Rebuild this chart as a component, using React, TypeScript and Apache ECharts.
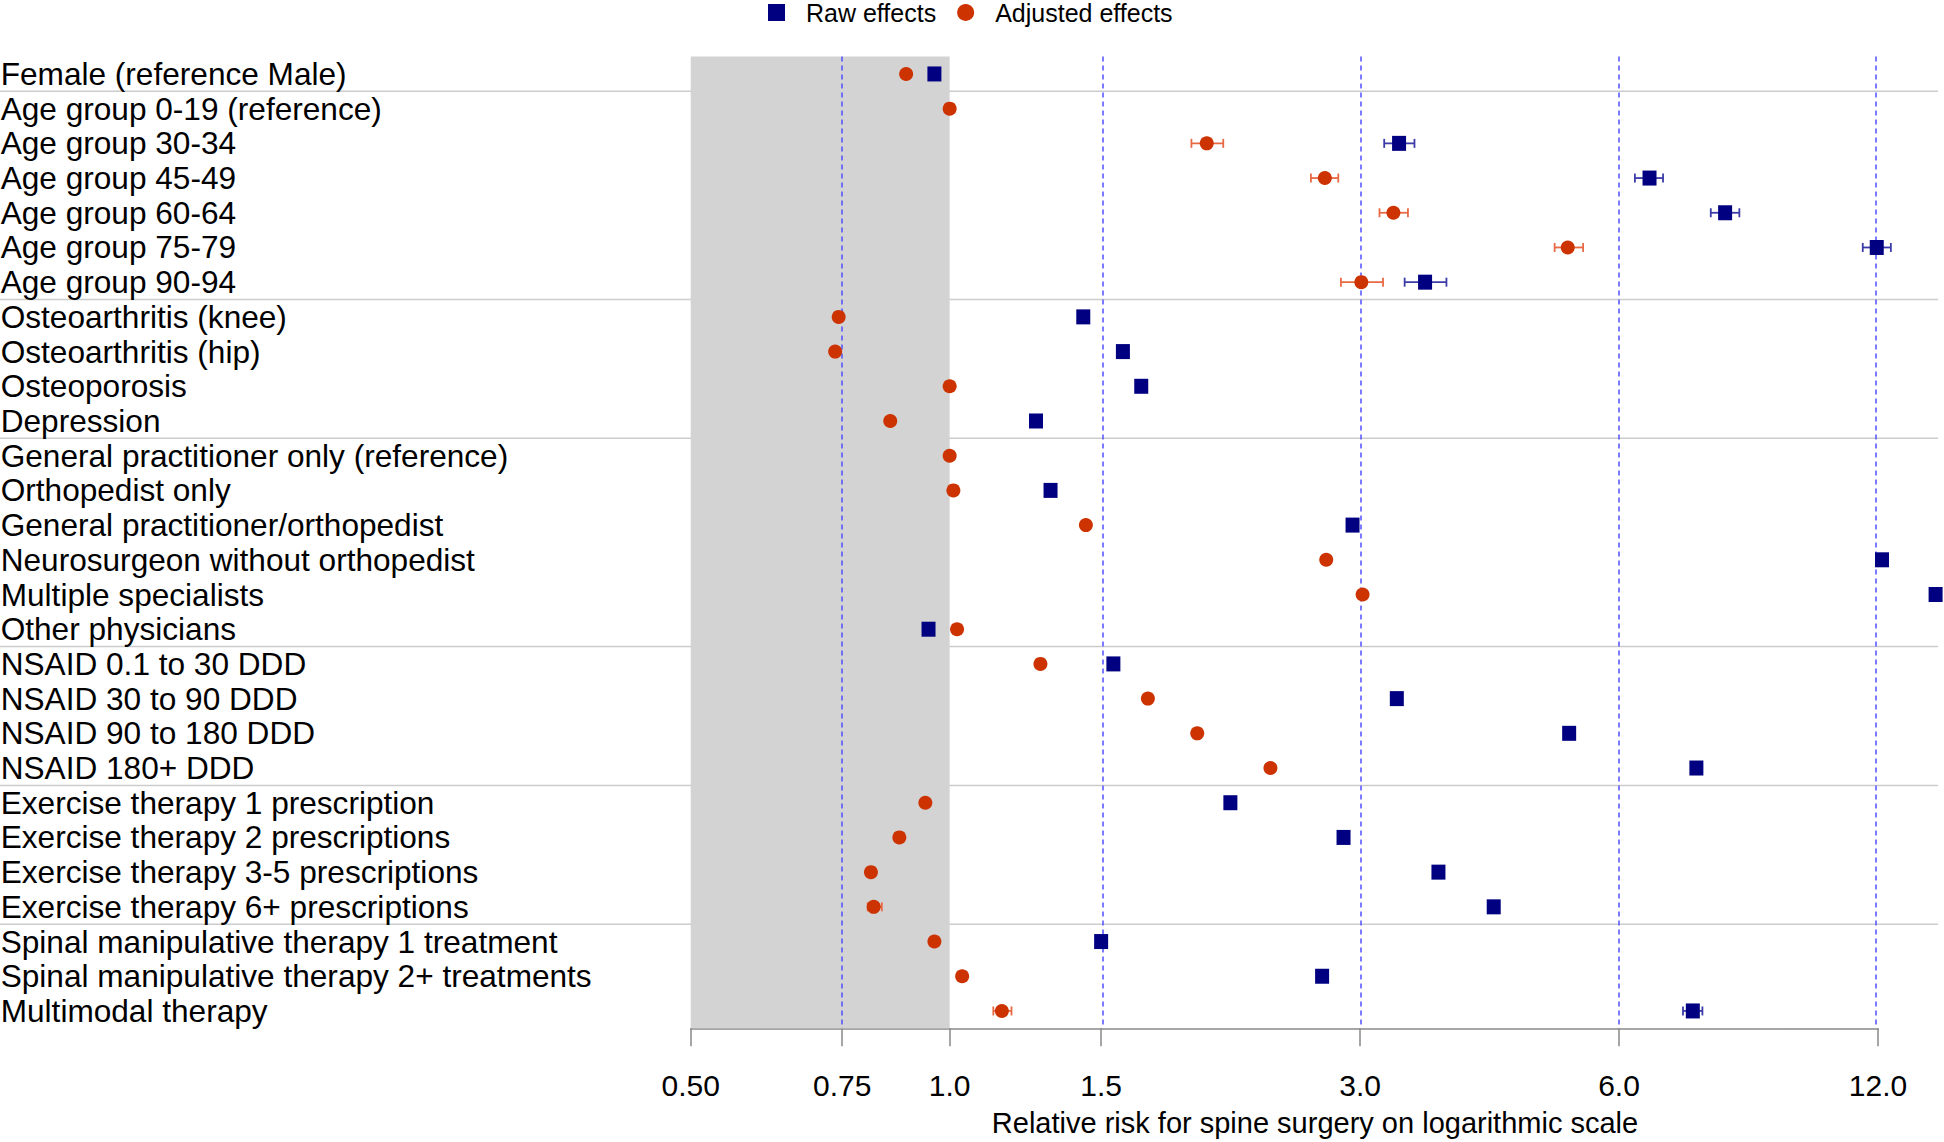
import React, { useEffect, useRef } from "react";
import * as echarts from "echarts";

const categories = [
  "Female (reference Male)",
  "Age group 0-19 (reference)",
  "Age group 30-34",
  "Age group 45-49",
  "Age group 60-64",
  "Age group 75-79",
  "Age group 90-94",
  "Osteoarthritis (knee)",
  "Osteoarthritis (hip)",
  "Osteoporosis",
  "Depression",
  "General practitioner only (reference)",
  "Orthopedist only",
  "General practitioner/orthopedist",
  "Neurosurgeon without orthopedist",
  "Multiple specialists",
  "Other physicians",
  "NSAID 0.1 to 30 DDD",
  "NSAID 30 to 90 DDD",
  "NSAID 90 to 180 DDD",
  "NSAID 180+ DDD",
  "Exercise therapy 1 prescription",
  "Exercise therapy 2 prescriptions",
  "Exercise therapy 3-5 prescriptions",
  "Exercise therapy 6+ prescriptions",
  "Spinal manipulative therapy 1 treatment",
  "Spinal manipulative therapy 2+ treatments",
  "Multimodal therapy",
];

const rawEffects = [
  0.96, null, 3.33, 6.51, 7.97, 11.96, 3.57, 1.43, 1.59, 1.67, 1.26, null, 1.31, 2.94,
  12.13, 14.0, 0.945, 1.55, 3.31, 5.25, 7.38, 2.12, 2.87, 3.7, 4.29, 1.5, 2.71, 7.31,
];
const rawLow = [
  null, null, 3.2, 6.26, 7.67, 11.52, 3.38, null, null, null, null, null, null, null,
  null, null, null, null, null, null, null, null, null, null, null, null, null, 7.12,
];
const rawHigh = [
  null, null, 3.47, 6.75, 8.28, 12.42, 3.78, null, null, null, null, null, null, null,
  null, null, null, null, null, null, null, null, null, null, null, null, null, 7.5,
];

const adjustedEffects = [
  0.89, 1.0, 1.99, 2.73, 3.28, 5.23, 3.01, 0.743, 0.736, 1.0, 0.853, 1.0, 1.01, 1.44,
  2.74, 3.02, 1.02, 1.275, 1.7, 1.94, 2.36, 0.937, 0.874, 0.81, 0.816, 0.96, 1.034, 1.15,
];
const adjLow = [
  null, null, 1.91, 2.63, 3.16, 5.05, 2.85, null, null, null, null, null, null, null,
  null, null, null, null, null, null, null, null, null, null, 0.803, null, null, 1.124,
];
const adjHigh = [
  null, null, 2.08, 2.83, 3.41, 5.45, 3.19, null, null, null, null, null, null, null,
  null, null, null, null, null, null, null, null, null, null, 0.834, null, null, 1.18,
];

const tickValues = [0.5, 0.75, 1.0, 1.5, 3.0, 6.0, 12.0];
const tickLabels = ["0.50", "0.75", "1.0", "1.5", "3.0", "6.0", "12.0"];
const referenceLines = [0.75, 1.5, 3.0, 6.0, 12.0];
const shadedRange = [0.5, 1.0];
const axisRange = [0.5, 12.0];
const separatorsAfter = [0, 6, 10, 16, 20, 24];

const xTitle = "Relative risk for spine surgery on logarithmic scale";
const rawName = "Raw effects";
const adjName = "Adjusted effects";

const FONT = "'Liberation Sans', Arial, Helvetica, sans-serif";
const RAW_COLOR = "#000080";
const ADJ_COLOR = "#cc3300";
const RAW_BAR = "#3c3ca8";
const ADJ_BAR = "#e86a45";

const ln = (v: number) => Math.log(v);

function errorBarRenderer(color: string) {
  return (params: any, api: any) => {
    const y = api.value(2);
    const p1 = api.coord([api.value(0), y]);
    const p2 = api.coord([api.value(1), y]);
    const h = 4.5;
    const style = { stroke: color, lineWidth: 1.8 };
    return {
      type: "group",
      children: [
        { type: "line", shape: { x1: p1[0], y1: p1[1], x2: p2[0], y2: p2[1] }, style },
        { type: "line", shape: { x1: p1[0], y1: p1[1] - h, x2: p1[0], y2: p1[1] + h }, style },
        { type: "line", shape: { x1: p2[0], y1: p2[1] - h, x2: p2[0], y2: p2[1] + h }, style },
      ],
    };
  };
}

export default function App() {
  const ref = useRef<HTMLDivElement>(null);

  useEffect(() => {
    document.body.style.margin = "0";
    if (!ref.current) return;
    const chart = echarts.init(ref.current, null, { renderer: "svg" });

    const rawPoints = rawEffects
      .map((v, i) => (v == null ? null : [ln(v), i]))
      .filter((d) => d) as number[][];
    const adjPoints = adjustedEffects
      .map((v, i) => (v == null ? null : [ln(v), i]))
      .filter((d) => d) as number[][];
    const rawBars = rawLow
      .map((lo, i) => (lo == null || rawHigh[i] == null ? null : [ln(lo), ln(rawHigh[i] as number), i]))
      .filter((d) => d) as number[][];
    const adjBars = adjLow
      .map((lo, i) => (lo == null || adjHigh[i] == null ? null : [ln(lo), ln(adjHigh[i] as number), i]))
      .filter((d) => d) as number[][];

    const tickLn = tickValues.map(ln);
    const fmt = (val: number) => {
      for (let i = 0; i < tickLn.length; i++) {
        if (Math.abs(tickLn[i] - val) < 1e-6) return tickLabels[i];
      }
      return "";
    };

    const option: any = {
      animation: false,
      textStyle: { fontFamily: FONT },
      legend: {
        left: 768,
        top: 0,
        padding: 0,
        itemWidth: 17,
        itemHeight: 17,
        itemGap: 21,
        textStyle: { fontSize: 25, color: "#000", fontFamily: FONT, padding: [0, 0, 0, 16] },
        data: [
          { name: rawName, icon: "rect" },
          { name: adjName, icon: "circle" },
        ],
      },
      grid: {
        left: 690.7,
        top: 56.6,
        width: 1187.3,
        height: 971.7,
        outerBoundsMode: "none",
        containLabel: false,
      },
      xAxis: {
        type: "value",
        min: ln(axisRange[0]),
        max: ln(axisRange[1]),
        axisLine: { show: true, lineStyle: { color: "#888", width: 1.5 } },
        axisTick: { show: true, length: 18, lineStyle: { color: "#888", width: 1.5 }, customValues: tickLn },
        axisLabel: { customValues: tickLn, formatter: fmt, fontSize: 30, margin: 42, color: "#000", fontFamily: FONT },
        splitLine: { show: false },
      },
      yAxis: {
        type: "category",
        inverse: true,
        data: categories,
        axisLine: { show: false },
        axisTick: { show: false },
        splitLine: { show: false },
        axisLabel: {
          interval: 0,
          align: "left",
          margin: 690,
          fontSize: 31.6,
          color: "#000",
          fontFamily: FONT,
          padding: [3, 0, 0, 0],
        },
      },
      series: [
        {
          type: "scatter",
          name: "shade",
          data: [],
          z: 1,
          silent: true,
          markArea: {
            silent: true,
            itemStyle: { color: "#d3d3d3" },
            data: [[{ xAxis: ln(shadedRange[0]) }, { xAxis: ln(shadedRange[1]) }]],
          },
        },
        {
          type: "scatter",
          name: "refs",
          data: [],
          z: 2,
          silent: true,
          markLine: {
            silent: true,
            symbol: "none",
            label: { show: false },
            lineStyle: { color: "#5050ff", width: 1.5, type: [5, 4] },
            data: referenceLines.map((v) => ({ xAxis: ln(v) })),
          },
        },
        {
          type: "custom",
          name: "rawBars",
          renderItem: errorBarRenderer(RAW_BAR),
          encode: { x: [0, 1], y: 2 },
          data: rawBars,
          clip: false,
          z: 3,
          silent: true,
        },
        {
          type: "custom",
          name: "adjBars",
          renderItem: errorBarRenderer(ADJ_BAR),
          encode: { x: [0, 1], y: 2 },
          data: adjBars,
          clip: false,
          z: 3,
          silent: true,
        },
        {
          type: "scatter",
          name: rawName,
          symbol: "rect",
          symbolSize: [14, 15],
          itemStyle: { color: RAW_COLOR, opacity: 1 },
          data: rawPoints,
          clip: false,
          z: 5,
        },
        {
          type: "scatter",
          name: adjName,
          symbol: "circle",
          symbolSize: 14,
          itemStyle: { color: ADJ_COLOR, opacity: 1 },
          data: adjPoints,
          clip: false,
          z: 6,
        },
      ],
    };

    chart.setOption(option);

    const graphics: any[] = [];
    separatorsAfter.forEach((idx, k) => {
      const y1 = chart.convertToPixel({ yAxisIndex: 0 }, idx) as number;
      const y2 = chart.convertToPixel({ yAxisIndex: 0 }, idx + 1) as number;
      const y = (y1 + y2) / 2;
      graphics.push({
        type: "line",
        id: "sep" + k,
        z: 0,
        silent: true,
        shape: { x1: 0, y1: y, x2: 1938, y2: y },
        style: { stroke: "#cccccc", lineWidth: 1.5 },
      });
    });
    graphics.push({
      type: "text",
      id: "xtitle",
      x: 1315,
      y: 1123,
      silent: true,
      style: {
        text: xTitle,
        fontSize: 29,
        fontFamily: FONT,
        fill: "#000",
        align: "center",
        verticalAlign: "middle",
      },
    });
    chart.setOption({ graphic: graphics });

    return () => chart.dispose();
  }, []);

  return <div ref={ref} style={{ width: 1944, height: 1142 }} />;
}
